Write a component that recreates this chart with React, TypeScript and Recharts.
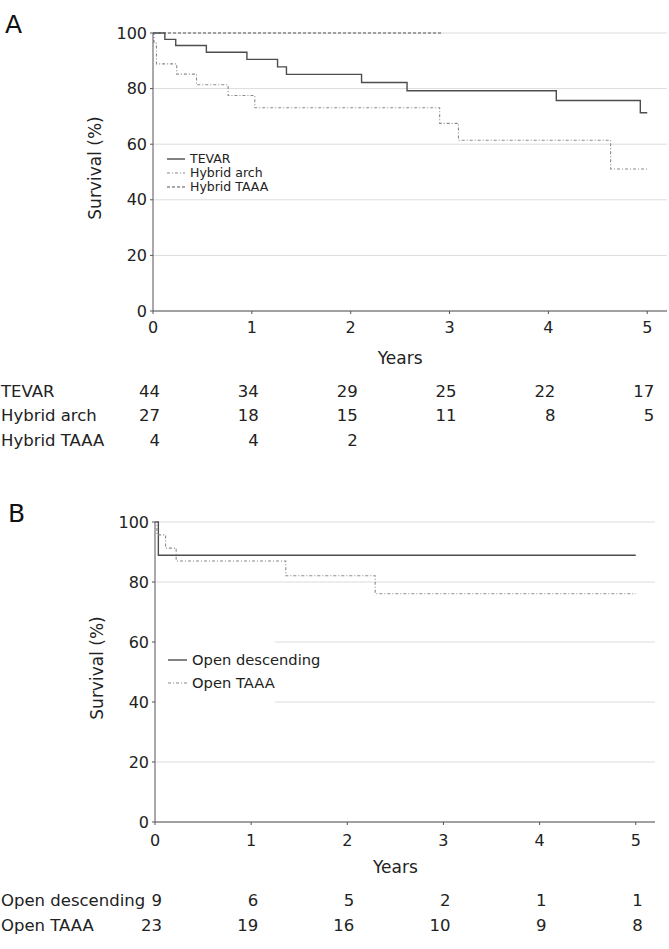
import { LineChart, Line, XAxis, YAxis, CartesianGrid, Legend, ReferenceDot } from 'recharts';

const FONT = '"DejaVu Sans", "Liberation Sans", Arial, sans-serif';

// panel A survival steps (years, %)
const tevar = [
  { t: 0, s: 100 },
  { t: 0.12, s: 97.7 },
  { t: 0.23, s: 95.5 },
  { t: 0.54, s: 93.1 },
  { t: 0.95, s: 90.5 },
  { t: 1.26, s: 87.8 },
  { t: 1.35, s: 85.1 },
  { t: 2.11, s: 82.2 },
  { t: 2.57, s: 79.2 },
  { t: 4.08, s: 75.7 },
  { t: 4.93, s: 71.3 },
  { t: 5.0, s: 71.3 },
];
const hybridArch = [
  { t: 0, s: 100 },
  { t: 0.01, s: 96.3 },
  { t: 0.035, s: 88.9 },
  { t: 0.24, s: 85.2 },
  { t: 0.44, s: 81.4 },
  { t: 0.76, s: 77.5 },
  { t: 1.03, s: 73.1 },
  { t: 2.9, s: 67.5 },
  { t: 3.09, s: 61.4 },
  { t: 4.63, s: 51.1 },
  { t: 5.0, s: 51.1 },
];
const hybridTaaa = [
  { t: 0, s: 100 },
  { t: 2.92, s: 100 },
];

// panel B
const openDescending = [
  { t: 0, s: 100 },
  { t: 0.035, s: 88.9 },
  { t: 5.0, s: 88.9 },
];
const openTaaa = [
  { t: 0, s: 100 },
  { t: 0.02, s: 95.7 },
  { t: 0.11, s: 91.3 },
  { t: 0.22, s: 87.0 },
  { t: 1.36, s: 82.1 },
  { t: 2.29, s: 76.1 },
  { t: 5.0, s: 76.1 },
];

// numbers at risk
const riskYears = [0, 1, 2, 3, 4, 5];
const riskTevar = [44, 34, 29, 25, 22, 17];
const riskHybridArch = [27, 18, 15, 11, 8, 5];
const riskHybridTaaa = [4, 4, 2];
const riskOpenDescending = [9, 6, 5, 2, 1, 1];
const riskOpenTaaa = [23, 19, 16, 10, 9, 8];

const xTicks = [0, 1, 2, 3, 4, 5];
const yTicks = [0, 20, 40, 60, 80, 100];

const SOLID = { stroke: '#4d4d4d', width: 1.4, dash: undefined as string | undefined };
const DASHDOT = { stroke: '#8a8a8a', width: 1.1, dash: '3 2 1 2' };
const DASHED = { stroke: '#555', width: 1.1, dash: '3 2' };

const panelA = {
  letter: 'A',
  letterLeft: 5,
  letterTop: 12,
  top: 0,
  margin: { top: 33, right: 2, left: 93, bottom: 119 },
  tickMargin: 8,
  yearsDy: 47,
  series: [
    { name: 'TEVAR', data: tevar, ...SOLID },
    { name: 'Hybrid arch', data: hybridArch, ...DASHDOT },
    { name: 'Hybrid TAAA', data: hybridTaaa, ...DASHED },
  ],
  rows: [
    { name: 'TEVAR', counts: riskTevar, dy: 80 },
    { name: 'Hybrid arch', counts: riskHybridArch, dy: 104 },
    { name: 'Hybrid TAAA', counts: riskHybridTaaa, dy: 129 },
  ],
  legend: {
    box: { left: 165, top: 152, width: 130, height: 44 },
    padTop: 0,
    padLeft: 2,
    rowHeight: 14,
    sampleWidth: 18,
    gap: 5,
    fontSize: 12.5,
    background: 'transparent',
  },
};

const panelB = {
  letter: 'B',
  letterLeft: 8,
  letterTop: 21,
  top: 480,
  margin: { top: 42, right: 14, left: 95, bottom: 88 },
  tickMargin: 10,
  yearsDy: 45,
  series: [
    { name: 'Open descending', data: openDescending, ...SOLID },
    { name: 'Open TAAA', data: openTaaa, ...DASHDOT },
  ],
  rows: [
    { name: 'Open descending', counts: riskOpenDescending, dy: 78 },
    { name: 'Open TAAA', counts: riskOpenTaaa, dy: 103 },
  ],
  legend: {
    box: { left: 156, top: 159, width: 119, height: 64 },
    padTop: 10,
    padLeft: 12,
    rowHeight: 22.7,
    sampleWidth: 19,
    gap: 5,
    fontSize: 14.7,
    background: '#fff',
  },
};

function LegendBox({ items, cfg }: any) {
  return (
    <div style={{ paddingTop: cfg.padTop, paddingLeft: cfg.padLeft }}>
      {items.map((s: any) => (
        <div
          key={s.name}
          style={{ display: 'flex', alignItems: 'center', height: cfg.rowHeight, whiteSpace: 'nowrap' }}
        >
          <svg width={cfg.sampleWidth} height={4} style={{ display: 'block', flexShrink: 0 }}>
            <line
              x1={0}
              y1={2}
              x2={cfg.sampleWidth}
              y2={2}
              stroke={s.stroke}
              strokeWidth={s.width}
              strokeDasharray={s.dash}
            />
          </svg>
          <span
            style={{
              marginLeft: cfg.gap,
              flexShrink: 0,
              fontSize: cfg.fontSize,
              fontFamily: FONT,
              color: '#222',
              lineHeight: 1,
            }}
          >
            {s.name}
          </span>
        </div>
      ))}
    </div>
  );
}

function Panel({ p }: any) {
  const tickStyle = { fill: '#222', fontSize: 16, fontFamily: FONT };
  return (
    <div style={{ position: 'absolute', left: 0, top: p.top }}>
      <div
        style={{
          position: 'absolute',
          left: p.letterLeft,
          top: p.letterTop,
          fontFamily: FONT,
          fontSize: 25,
          color: '#111',
          lineHeight: 1,
          zIndex: 2,
        }}
      >
        {p.letter}
      </div>
      <LineChart width={669} height={460} margin={p.margin}>
        <CartesianGrid vertical={false} stroke="#dcdcdc" />
        <XAxis
          type="number"
          dataKey="t"
          domain={[0, 5.2]}
          ticks={xTicks}
          height={30}
          tickSize={3}
          tickMargin={p.tickMargin}
          tick={tickStyle}
          stroke="#555"
          allowDataOverflow
        />
        <YAxis
          type="number"
          domain={[0, 100]}
          ticks={yTicks}
          width={60}
          tickSize={3}
          tickMargin={3}
          tick={tickStyle}
          stroke="#555"
          label={(lp: any) => {
            const vb = lp.viewBox;
            if (!vb) return null;
            const cx = vb.x + 2;
            const cy = vb.y + vb.height / 2 - 4;
            return (
              <text
                x={cx}
                y={cy}
                transform={`rotate(-90 ${cx} ${cy})`}
                textAnchor="middle"
                dominantBaseline="central"
                fontSize={17}
                fontFamily={FONT}
                fill="#222"
              >
                Survival (%)
              </text>
            );
          }}
        />
        <Legend
          layout="vertical"
          align="center"
          verticalAlign="middle"
          wrapperStyle={{
            left: p.legend.box.left,
            top: p.legend.box.top,
            width: p.legend.box.width,
            height: p.legend.box.height,
            background: p.legend.background,
            overflow: 'visible',
          }}
          content={() => <LegendBox items={p.series} cfg={p.legend} />}
        />
        {p.series.map((s: any) => (
          <Line
            key={s.name}
            name={s.name}
            data={s.data}
            dataKey="s"
            type="stepAfter"
            stroke={s.stroke}
            strokeWidth={s.width}
            strokeDasharray={s.dash}
            dot={false}
            activeDot={false}
            isAnimationActive={false}
          />
        ))}
        <ReferenceDot
          x={2.5}
          y={0}
          r={0}
          fill="none"
          stroke="none"
          label={(lp: any) =>
            lp.viewBox ? (
              <text
                x={lp.viewBox.x}
                y={lp.viewBox.y + p.yearsDy}
                textAnchor="middle"
                dominantBaseline="central"
                fontSize={17}
                fontFamily={FONT}
                fill="#222"
              >
                Years
              </text>
            ) : null
          }
        />
        {p.rows.map((row: any) =>
          row.counts.map((n: number, i: number) => (
            <ReferenceDot
              key={row.name + i}
              x={riskYears[i]}
              y={0}
              r={0}
              fill="none"
              stroke="none"
              label={(lp: any) =>
                lp.viewBox ? (
                  <g fontSize={16.5} fontFamily={FONT} fill="#222">
                    {i === 0 && (
                      <text x={1} y={lp.viewBox.y + row.dy} dominantBaseline="central">
                        {row.name}
                      </text>
                    )}
                    <text
                      x={lp.viewBox.x + 7}
                      y={lp.viewBox.y + row.dy}
                      textAnchor="end"
                      dominantBaseline="central"
                    >
                      {n}
                    </text>
                  </g>
                ) : null
              }
            />
          ))
        )}
      </LineChart>
    </div>
  );
}

export default function App() {
  return (
    <div style={{ position: 'absolute', left: 0, top: 0, width: 669, height: 949, background: '#fff' }}>
      <Panel p={panelA} />
      <Panel p={panelB} />
    </div>
  );
}
